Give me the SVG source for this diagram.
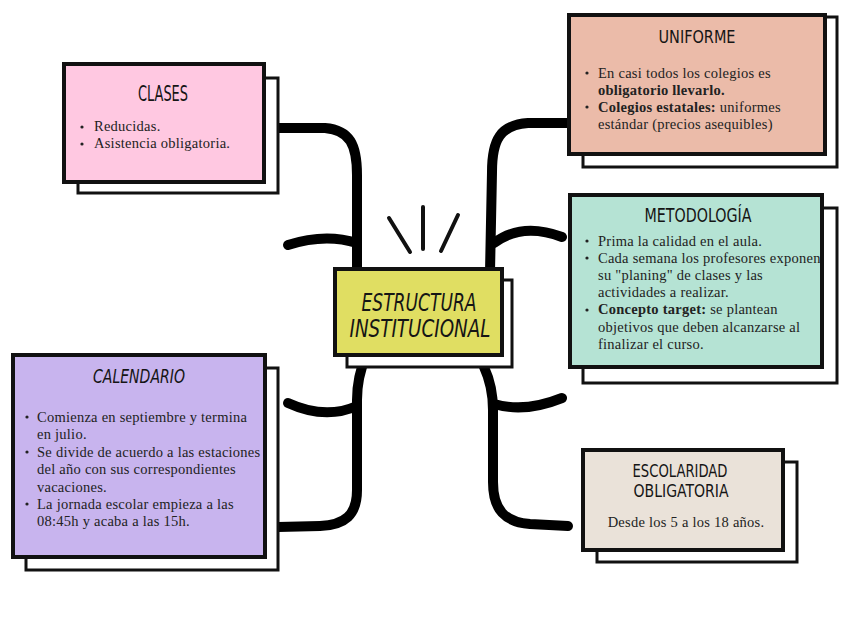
<svg xmlns="http://www.w3.org/2000/svg" width="848" height="636" viewBox="0 0 848 636">
<style>
.shadow{fill:#ffffff;stroke:#111;stroke-width:3}
.front{stroke:#111;stroke-width:4}
.border{fill:none;stroke:#111;stroke-width:4}
.title{font-family:"DejaVu Sans Condensed","DejaVu Sans",sans-serif;font-stretch:condensed;fill:#151515;text-anchor:middle}
.italic{font-style:italic}
.body{font-family:"Liberation Serif","Times New Roman",serif;font-size:14.5px;letter-spacing:0.25px;fill:#222}
.b{font-weight:bold}
.conn{fill:none;stroke:#000;stroke-width:10;stroke-linecap:round;stroke-linejoin:round}
.ray{fill:none;stroke:#111;stroke-width:4;stroke-linecap:round}
.dot{fill:#222}
</style>
<rect width="848" height="636" fill="#ffffff"/>
<g id="connectors">
<path class="conn" d="M278,128 L325,128 C350,130 357,145 357,175 L357,272"/>
<path class="conn" d="M288,245 Q325,233 357,243"/>
<path class="conn" d="M366,356 C360,370 357,382 357,400 L357,490 C357,515 345,525 320,526 L278,527"/>
<path class="conn" d="M288,403 Q325,420 357,406"/>
<path class="conn" d="M568,123 L528,123 C500,125 492,140 492,172 L490,272"/>
<path class="conn" d="M562,237 Q522,222 494,243"/>
<path class="conn" d="M484,367 C490,380 493,392 493,410 L493,482 C493,510 505,522 530,524 L568,526"/>
<path class="conn" d="M562,398 Q525,413 494,404"/>
</g>
<g id="node-center">
<line class="ray" x1="389" y1="218" x2="410" y2="252"/>
<line class="ray" x1="423" y1="207" x2="423" y2="249"/>
<line class="ray" x1="458" y1="215" x2="441" y2="251"/>
<rect class="shadow" x="347" y="280" width="165" height="87"/>
<rect class="front" x="335" y="269" width="167" height="86" fill="#E0DE62"/>
<text class="title italic" x="419" y="311" font-size="24" textLength="115" lengthAdjust="spacingAndGlyphs">ESTRUCTURA</text>
<text class="title italic" x="420" y="337" font-size="24" textLength="141" lengthAdjust="spacingAndGlyphs">INSTITUCIONAL</text>
</g>
<g id="node-clases">
<rect class="shadow" x="78" y="78" width="200" height="115"/>
<rect class="front" x="64" y="64" width="200" height="118" fill="#FFC8E1"/>
<text class="title" x="163" y="101" font-size="21" textLength="50" lengthAdjust="spacingAndGlyphs">CLASES</text>
<circle class="dot" cx="82" cy="127" r="1.6"/><text class="body" x="94" y="131">Reducidas.</text>
<circle class="dot" cx="82" cy="144" r="1.6"/><text class="body" x="94" y="148">Asistencia obligatoria.</text>
</g>
<g id="node-uniforme">
<rect class="shadow" x="583" y="17" width="254" height="150"/>
<rect class="front" x="569" y="15" width="256" height="139" fill="#EBBBA9"/>
<text class="title" x="697" y="43" font-size="17.5" textLength="77" lengthAdjust="spacingAndGlyphs">UNIFORME</text>
<circle class="dot" cx="587" cy="73" r="1.6"/><text class="body" x="598" y="77.5">En casi todos los colegios es</text>
<text class="body b" x="598" y="94.5">obligatorio llevarlo.</text>
<circle class="dot" cx="587" cy="107" r="1.6"/><text class="body" x="598" y="111.5"><tspan class="b">Colegios estatales:</tspan> uniformes</text>
<text class="body" x="598" y="129">estándar (precios asequibles)</text>
</g>
<g id="node-metodologia">
<rect class="shadow" x="583" y="208" width="254" height="175"/>
<rect x="570" y="195" width="252" height="172" fill="#B5E3D4"/>
<text class="title" x="698" y="222" font-size="19" textLength="107" lengthAdjust="spacingAndGlyphs">METODOLOGÍA</text>
<circle class="dot" cx="587" cy="241" r="1.6"/><text class="body" x="598" y="245.5">Prima la calidad en el aula.</text>
<circle class="dot" cx="587" cy="258" r="1.6"/><text class="body" x="598" y="262.5">Cada semana los profesores exponen</text>
<text class="body" x="598" y="279.5">su "planing" de clases y las</text>
<text class="body" x="598" y="297">actividades a realizar.</text>
<circle class="dot" cx="587" cy="310" r="1.6"/><text class="body" x="598" y="314"><tspan class="b">Concepto target:</tspan> se plantean</text>
<text class="body" x="598" y="331.5">objetivos que deben alcanzarse al</text>
<text class="body" x="598" y="348.5">finalizar el curso.</text>
<rect class="border" x="570" y="195" width="252" height="172"/>
</g>
<g id="node-calendario">
<rect class="shadow" x="26" y="368" width="252" height="202"/>
<rect class="front" x="13" y="355" width="252" height="202" fill="#C8B4EE"/>
<text class="title italic" x="139" y="383" font-size="20" textLength="92" lengthAdjust="spacingAndGlyphs">CALENDARIO</text>
<circle class="dot" cx="27" cy="417" r="1.6"/><text class="body" x="37" y="421.5">Comienza en septiembre y termina</text>
<text class="body" x="37" y="439">en julio.</text>
<circle class="dot" cx="27" cy="452" r="1.6"/><text class="body" x="37" y="456.5">Se divide de acuerdo a las estaciones</text>
<text class="body" x="37" y="474">del año con sus correspondientes</text>
<text class="body" x="37" y="491.5">vacaciones.</text>
<circle class="dot" cx="27" cy="504" r="1.6"/><text class="body" x="37" y="508.5">La jornada escolar empieza a las</text>
<text class="body" x="37" y="526">08:45h y acaba a las 15h.</text>
</g>
<g id="node-escolaridad">
<rect class="shadow" x="597" y="462" width="200" height="100"/>
<rect class="front" x="583" y="450" width="200" height="100" fill="#EAE2D9"/>
<text class="title" x="680" y="477" font-size="17" textLength="95" lengthAdjust="spacingAndGlyphs">ESCOLARIDAD</text>
<text class="title" x="681" y="497" font-size="17" textLength="95" lengthAdjust="spacingAndGlyphs">OBLIGATORIA</text>
<text class="body" x="686" y="526.5" text-anchor="middle">Desde los 5 a los 18 años.</text>
</g>
</svg>
